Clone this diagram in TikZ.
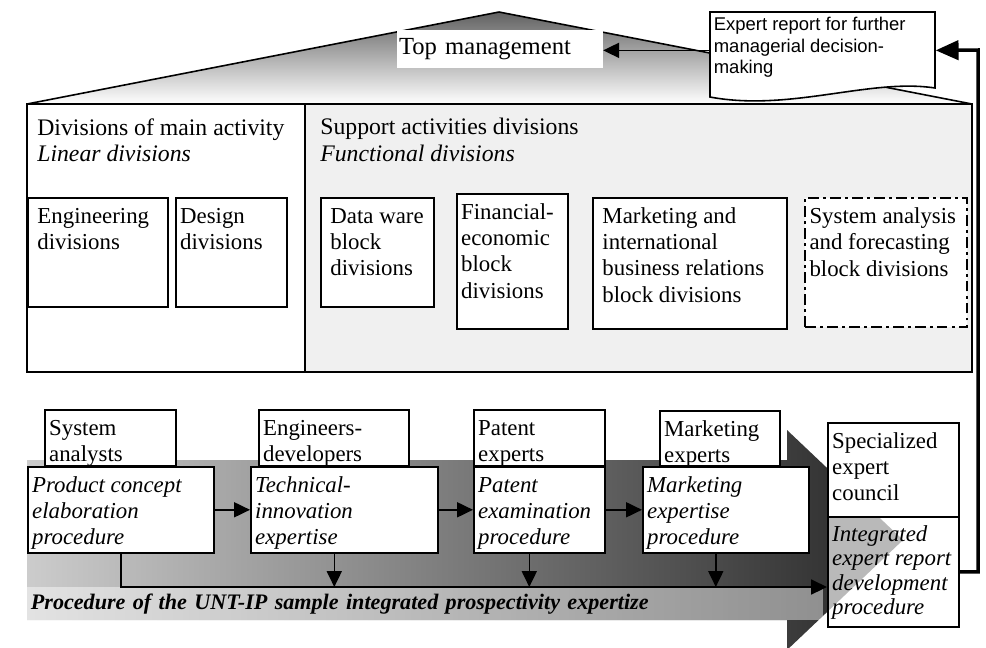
\documentclass[tikz,border=0pt]{standalone}
\usepackage{fontspec}
\setmainfont{Liberation Serif}
\newfontfamily\arialfont{Liberation Sans}
\usepackage{tikz}
\usetikzlibrary{arrows.meta}

\newdimen\px \px=0.02cm
\newcommand{\blocktext}[3]{\parbox[t][\dimexpr#2\px-8pt\relax][t]{\dimexpr#1\px-5pt\relax}{\raggedright\strut#3}}

\tikzset{
  blk/.style={draw, line width=0.9pt, fill=white, anchor=north west, inner xsep=2.5pt, inner ysep=4pt, font=\fontsize{13}{15}\selectfont},
  proc/.style={blk, font=\fontsize{13}{15}\selectfont\itshape},
  arr/.style={-{Triangle[length=9pt,width=8.5pt]}, line width=0.9pt},
  fbarr/.style={-{Triangle[length=13pt,width=11pt]}, line width=2pt},
}

\begin{document}
\begin{tikzpicture}[x=0.02cm, y=-0.02cm]
\useasboundingbox (0,0) rectangle (986,647);

% roof
\shade[top color=black!62, bottom color=white] (27,104) -- (499,12) -- (972,104) -- cycle;
\draw[line width=0.9pt] (27,104) -- (499,12) -- (972,104);

% main activity / support panels
\draw[line width=1pt, fill=white] (27,104) rectangle (305,372);
\draw[line width=1pt, fill=gray!12] (305,104) rectangle (972,372);

\node (maintitle) [anchor=north west, inner sep=0pt, align=left, font=\fontsize{13.5}{15.3}\selectfont] at (37,118) {Divisions of main activity\\\textit{Linear divisions}};
\node (suptitle) [anchor=north west, inner sep=0pt, align=left, font=\fontsize{13.5}{15.3}\selectfont] at (320,118) {Support activities divisions\\\textit{Functional divisions}};

\node (top) [fill=white, anchor=north west, inner xsep=1pt, inner ysep=0pt, minimum height=0.76cm, text width=4.04cm, align=left, font=\fontsize{14}{16}\selectfont] at (397,30) {Top management};

% expert report (document)
\draw[line width=0.9pt, fill=white] (710,12) -- (935,12) -- (935,88) .. controls (870,78) and (790,112) .. (710,97) -- cycle;
\node (report) [anchor=north west, inner xsep=2pt, inner ysep=3pt, font=\arialfont\fontsize{10.5}{12}\selectfont] at (710,12) {\parbox[t][\dimexpr76\px-6pt\relax][t]{\dimexpr225\px-4pt\relax}{Expert report for further\\managerial decision-\\making}};
\draw[arr] (report.west) -- (report.west -| top.east);

% divisions
\node (eng) [blk] at (27,197) {\blocktext{140}{109}{\hspace{3pt}Engineering\\\hspace{3pt}divisions}};
\node (design) [blk] at (175,197) {\blocktext{111}{109}{Design\\divisions}};
\node (dataware) [blk] at (320,197) {\blocktext{113}{109}{\hspace{3pt}Data ware\\\hspace{3pt}block\\\hspace{3pt}divisions}};
\node (finance) [blk] at (456,193) {\blocktext{111}{135}{Financial-\\economic\\block\\divisions}};
\node (marketing) [blk] at (592,197) {\blocktext{194}{131}{\hspace{3pt}Marketing and\\\hspace{3pt}international\\\hspace{3pt}business relations\\\hspace{3pt}block divisions}};
\node (sysblock) [blk, line width=1.3pt, dash pattern=on 6pt off 2.5pt on 1.5pt off 2.5pt] at (804,197) {\blocktext{162}{129}{System analysis\\and forecasting\\block divisions}};

% big arrow of the procedure
\coordinate (headtop) at (787,430);
\coordinate (headtip) at (903,540);
\coordinate (headbot) at (787,650);
\shade[left color=gray!40, right color=black!85] (27,460) -- (787,460) -- (headtop) -- (headtip) -- (headbot) -- (787,620) -- (27,620) -- cycle;
\node (strip) [anchor=north west, fill=white, fill opacity=.45, text opacity=1, inner xsep=2pt, inner ysep=0pt, minimum height=0.66cm, text width=15.78cm, align=left, font=\fontsize{12.6}{15}\selectfont\bfseries\itshape] at (27,587) {Procedure of the UNT-IP sample integrated prospectivity expertize};

% procedures
\node (prod) [proc] at (27,466) {\blocktext{186}{86}{Product concept\\elaboration\\procedure}};
\node (tech) [proc] at (250,466) {\blocktext{187}{86}{Technical-\\innovation\\expertise}};
\node (patproc) [proc] at (473,466) {\blocktext{131}{86}{Patent\\examination\\procedure}};
\node (mktproc) [proc] at (642,466) {\blocktext{166}{86}{Marketing\\expertise\\procedure}};
\node (integ) [proc, font=\fontsize{13}{14}\selectfont\itshape, path picture={\fill[gray!55] (headtop) -- (headtip) -- (headbot) -- cycle;}] at (827,516) {\blocktext{131}{110}{Integrated\\expert~report\\development\\procedure}};

% experts
\node (sysan) [blk] at (44,409) {\blocktext{131}{56}{System\\analysts}};
\node (engdev) [blk] at (258,409) {\blocktext{150}{56}{Engineers-\\developers}};
\node (patexp) [blk] at (473,409) {\blocktext{131}{56}{Patent\\experts}};
\node (mktexp) [blk] at (659,410) {\blocktext{120}{55}{Marketing\\experts}};
\node (council) [blk] at (827,422) {\blocktext{131}{94}{Specialized\\expert\\council}};

% flow
\draw[arr] (prod) -- (tech);
\draw[arr] (tech) -- (patproc);
\draw[arr] (patproc) -- (mktproc);
\foreach \b in {tech, patproc, mktproc}
  \draw[arr] ([xshift=-10\px]\b.south) -- ([xshift=-10\px]\b.south |- strip.north);
\draw[arr] (prod.south) |- (integ.west |- strip.north);

% back to the report
\coordinate (fbturn) at (978,50);
\draw[fbarr] (integ.east) -| (fbturn) -- (report.east);

\end{tikzpicture}
\end{document}
